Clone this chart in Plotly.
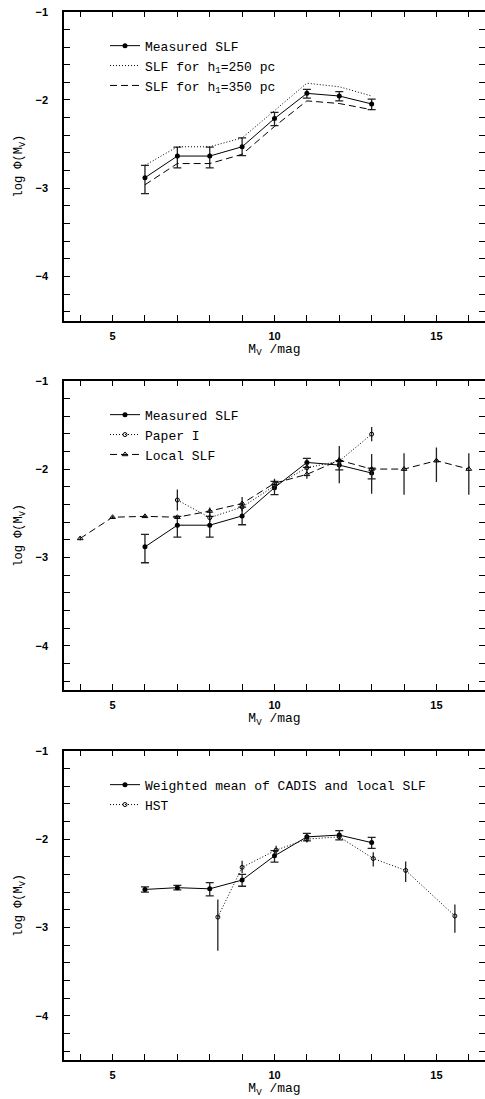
import plotly.graph_objects as go

# ---------------- data ----------------
# Panel 1: measured SLF and scale-height variants
mag_cadis = [6, 7, 8, 9, 10, 11, 12, 13]
slf_measured = [-2.88, -2.635, -2.635, -2.53, -2.21, -1.925, -1.955, -2.045]
slf_measured_err_up = [0.14, 0.10, 0.10, 0.10, 0.07, 0.045, 0.05, 0.055]
slf_measured_err_dn = [0.18, 0.135, 0.135, 0.10, 0.08, 0.055, 0.055, 0.065]
slf_h250 = [-2.74, -2.53, -2.53, -2.43, -2.12, -1.81, -1.85, -1.955]
slf_h350 = [-2.96, -2.72, -2.72, -2.615, -2.30, -2.01, -2.04, -2.11]

# Panel 2: Paper I and local SLF
mag_paper1 = [7, 8, 9, 10, 11, 12, 13]
slf_paper1 = [-2.35, -2.55, -2.43, -2.19, -1.985, -1.91, -1.605]
slf_paper1_err = [0.12, 0.05, 0.05, 0.05, 0.04, 0.05, 0.08]

mag_local = [4, 5, 6, 7, 8, 9, 10, 11, 12, 13, 14, 15, 16]
slf_local = [-2.785, -2.545, -2.535, -2.545, -2.475, -2.39, -2.16, -2.06,
             -1.90, -2.0, -2.0, -1.905, -2.0]
slf_local_err_up = [0.02, 0.015, 0.015, 0.015, 0.04, 0.075, 0.05, 0.04,
                    0.16, 0.17, 0.18, 0.15, 0.18]
slf_local_err_dn = [0.02, 0.015, 0.015, 0.015, 0.05, 0.075, 0.05, 0.05,
                    0.26, 0.28, 0.29, 0.24, 0.29]

# Panel 3: weighted mean and HST
slf_wmean = [-2.57, -2.55, -2.563, -2.464, -2.19, -1.975, -1.955, -2.04]
slf_wmean_err_up = [0.03, 0.025, 0.07, 0.065, 0.06, 0.04, 0.05, 0.06]
slf_wmean_err_dn = [0.03, 0.025, 0.08, 0.07, 0.07, 0.045, 0.055, 0.065]

mag_hst = [8.25, 9.0, 10.05, 11.0, 12.0, 13.05, 14.05, 15.57]
slf_hst = [-2.883, -2.32, -2.125, -2.0, -1.975, -2.22, -2.355, -2.87]
slf_hst_err_up = [0.2, 0.075, 0.05, 0.04, 0.03, 0.07, 0.1, 0.13]
slf_hst_err_dn = [0.38, 0.065, 0.05, 0.04, 0.03, 0.09, 0.13, 0.19]

legend_labels_1 = ["Measured SLF", "SLF for h<sub>1</sub>=250 pc", "SLF for h<sub>1</sub>=350 pc"]
legend_labels_2 = ["Measured SLF", "Paper I", "Local SLF"]
legend_labels_3 = ["Weighted mean of CADIS and local SLF", "HST"]

x_range = [3.5, 16.5]
y_range = [-4.5, -1]

# ---------------- figure ----------------
W, H = 485, 1099
ML = 64
MONO = "Liberation Mono, Courier New, monospace"
SANS = "Liberation Sans, Arial, sans-serif"

panels_px = [(11.7, 320.7), (380.7, 690.0), (750.7, 1060.0)]

DOT = "1px,2px"
DASH = "7px,4px"


def ydom(top, bot):
    return [1 - bot / H, 1 - top / H]


fig = go.Figure()

ebar_kw = dict(type="data", symmetric=False, thickness=1.3, color="#222222")

# Panel 1
fig.add_trace(go.Scatter(
    x=mag_cadis, y=slf_measured, mode="lines+markers", name=legend_labels_1[0],
    line=dict(color="black", width=1), marker=dict(symbol="circle", size=5, color="black"),
    error_y=dict(array=slf_measured_err_up, arrayminus=slf_measured_err_dn, width=4, **ebar_kw),
    xaxis="x", yaxis="y", legend="legend"))
fig.add_trace(go.Scatter(
    x=mag_cadis, y=slf_h250, mode="lines", name=legend_labels_1[1],
    line=dict(color="black", width=1, dash=DOT), xaxis="x", yaxis="y", legend="legend"))
fig.add_trace(go.Scatter(
    x=mag_cadis, y=slf_h350, mode="lines", name=legend_labels_1[2],
    line=dict(color="black", width=1, dash=DASH), xaxis="x", yaxis="y", legend="legend"))

# Panel 2
fig.add_trace(go.Scatter(
    x=mag_cadis, y=slf_measured, mode="lines+markers", name=legend_labels_2[0],
    line=dict(color="black", width=1), marker=dict(symbol="circle", size=5, color="black"),
    error_y=dict(array=slf_measured_err_up, arrayminus=slf_measured_err_dn, width=4, **ebar_kw),
    xaxis="x2", yaxis="y2", legend="legend2"))
fig.add_trace(go.Scatter(
    x=mag_paper1, y=slf_paper1, mode="lines+markers", name=legend_labels_2[1],
    line=dict(color="black", width=1, dash=DOT),
    marker=dict(symbol="circle-open", size=4, color="black", line=dict(width=1)),
    error_y=dict(type="data", array=slf_paper1_err, width=0, thickness=1.3, color="#222222"),
    xaxis="x2", yaxis="y2", legend="legend2"))
fig.add_trace(go.Scatter(
    x=mag_local, y=slf_local, mode="lines+markers", name=legend_labels_2[2],
    line=dict(color="black", width=1, dash=DASH),
    marker=dict(symbol="triangle-up-open", size=5, color="black", line=dict(width=1)),
    error_y=dict(array=slf_local_err_up, arrayminus=slf_local_err_dn, width=0, **ebar_kw),
    xaxis="x2", yaxis="y2", legend="legend2"))

# Panel 3
fig.add_trace(go.Scatter(
    x=mag_cadis, y=slf_wmean, mode="lines+markers", name=legend_labels_3[0],
    line=dict(color="black", width=1), marker=dict(symbol="circle", size=5, color="black"),
    error_y=dict(array=slf_wmean_err_up, arrayminus=slf_wmean_err_dn, width=4, **ebar_kw),
    xaxis="x3", yaxis="y3", legend="legend3"))
fig.add_trace(go.Scatter(
    x=mag_hst, y=slf_hst, mode="lines+markers", name=legend_labels_3[1],
    line=dict(color="black", width=1, dash=DOT),
    marker=dict(symbol="circle-open", size=4, color="black", line=dict(width=1)),
    error_y=dict(array=slf_hst_err_up, arrayminus=slf_hst_err_dn, width=0, **ebar_kw),
    xaxis="x3", yaxis="y3", legend="legend3"))

axis_common = dict(
    showline=True, linecolor="black", linewidth=1.5, mirror="ticks",
    ticks="inside", tickcolor="black", tickwidth=1.2, ticklen=6,
    showgrid=False, zeroline=False, ticklabeloverflow="allow",
    tickfont=dict(family=SANS, size=11, color="black", weight="bold"),
)

layout = dict(
    width=W, height=H,
    margin=dict(l=ML, r=0, t=0, b=0, autoexpand=False),
    paper_bgcolor="white", plot_bgcolor="white",
    showlegend=True,
)

for i, (top, bot) in enumerate(panels_px):
    sfx = "" if i == 0 else str(i + 1)
    layout["xaxis" + sfx] = dict(
        axis_common, range=x_range, domain=[0, 1], anchor="y" + sfx,
        tick0=0, dtick=5, ticklabelstandoff=4,
        minor=dict(dtick=1, ticks="inside", ticklen=6, tickcolor="black", tickwidth=1.2),
        title=dict(text="M<sub>V</sub> /mag", font=dict(family=MONO, size=13, color="black"), standoff=2),
        automargin=False,
    )
    layout["yaxis" + sfx] = dict(
        axis_common, range=y_range, domain=ydom(top, bot), anchor="x" + sfx,
        tick0=0, dtick=1, ticklabelstandoff=12,
        minor=dict(dtick=0.2, ticks="inside", ticklen=6, tickcolor="black", tickwidth=1.2),
        title=dict(text="log Φ(M<sub>V</sub>)", font=dict(family=MONO, size=12, color="black"), standoff=10),
        automargin=False,
    )
    lname = "legend" + sfx
    layout[lname] = dict(
        x=(105 - ML) / (W - ML), xanchor="left",
        y=1 - (top + 19) / H, yanchor="top",
        bgcolor="rgba(0,0,0,0)", borderwidth=0,
        font=dict(family=MONO, size=13, color="black"),
        itemwidth=30, tracegroupgap=0,
    )

fig.update_layout(**layout)

fig.write_html("out.html", config={"displayModeBar": False},
               post_script="document.body.style.margin='0';")
